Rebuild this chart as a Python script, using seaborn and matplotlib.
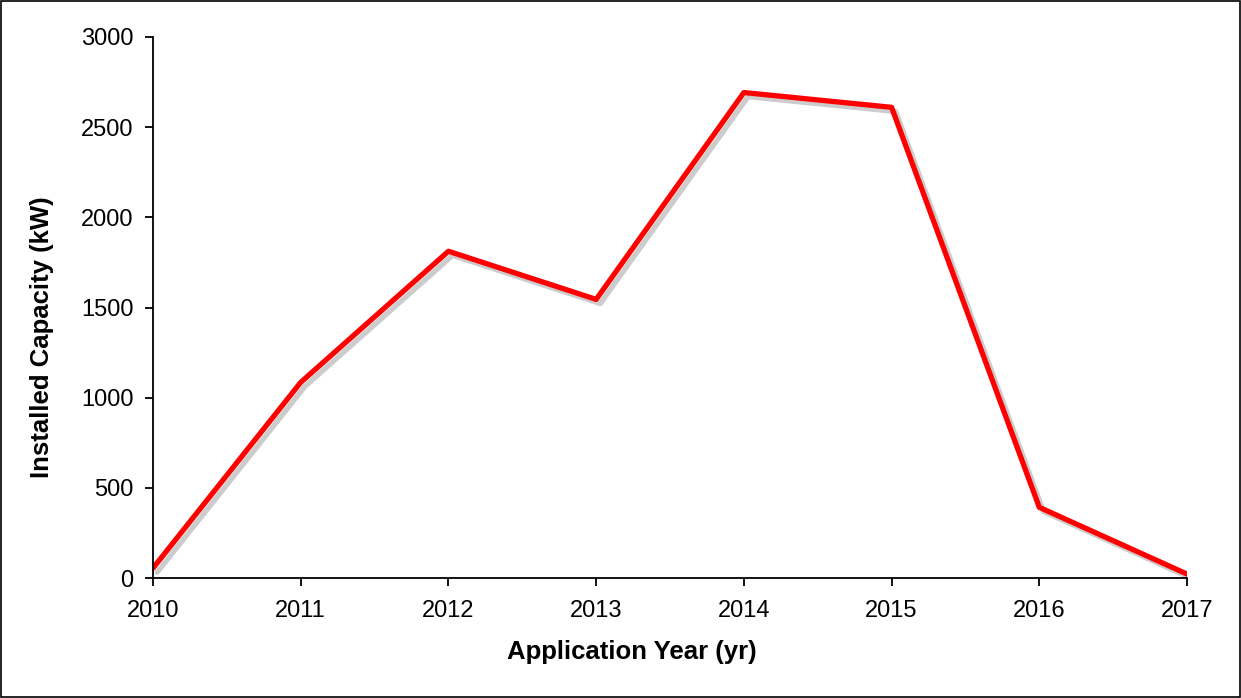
import matplotlib
matplotlib.use("Agg")
import matplotlib.pyplot as plt
import matplotlib.patheffects as pe
import seaborn as sns
import pandas as pd

# Données
years = [2010, 2011, 2012, 2013, 2014, 2015, 2016, 2017]
capacity_kw = [55, 1085, 1812, 1545, 2692, 2610, 392, 22]

df = pd.DataFrame({"year": years, "capacity": capacity_kw})

sns.set_theme(style="ticks")
plt.rcParams['font.family'] = ['Liberation Sans', 'DejaVu Sans']

fig = plt.figure(figsize=(12.41, 6.98), dpi=100)
ax = fig.add_axes([0.1233, 0.1719, 0.8332, 0.7751])

sns.lineplot(data=df, x="year", y="capacity", ax=ax, color="#ff0000",
             linewidth=3.8,
             path_effects=[pe.SimpleLineShadow(offset=(3, -3), shadow_color="gray", alpha=0.4),
                           pe.Normal()])

ax.set_xlim(2010, 2017)
ax.set_ylim(0, 3000)
ax.set_xticks(years)
ax.set_xticklabels([str(y) for y in years])
ax.set_yticks(range(0, 3001, 500))

ax.spines['top'].set_visible(False)
ax.spines['right'].set_visible(False)
for s in ['left', 'bottom']:
    ax.spines[s].set_color("black")
    ax.spines[s].set_linewidth(1.3)
ax.tick_params(axis='both', direction='out', length=6, width=1.3, colors='black',
               labelcolor='black', labelsize=17, pad=8)
ax.tick_params(axis='x', pad=10)

ax.set_xlabel("Application Year (yr)", fontsize=18.5, fontweight='bold', color='black')
ax.set_ylabel("Installed Capacity (kW)", fontsize=18.5, fontweight='bold', color='black')
# Position des titres d'axes comme sur l'original (légèrement décentrés)
ax.xaxis.set_label_coords(0.463, -0.115)
ax.yaxis.set_label_coords(-0.096, 0.445)

# Cadre autour de la figure
fig.patches.append(plt.Rectangle((0.001, 0.001), 0.998, 0.997, transform=fig.transFigure,
                                 fill=False, edgecolor="black", linewidth=1.2))

plt.savefig("out.png", dpi=100)
